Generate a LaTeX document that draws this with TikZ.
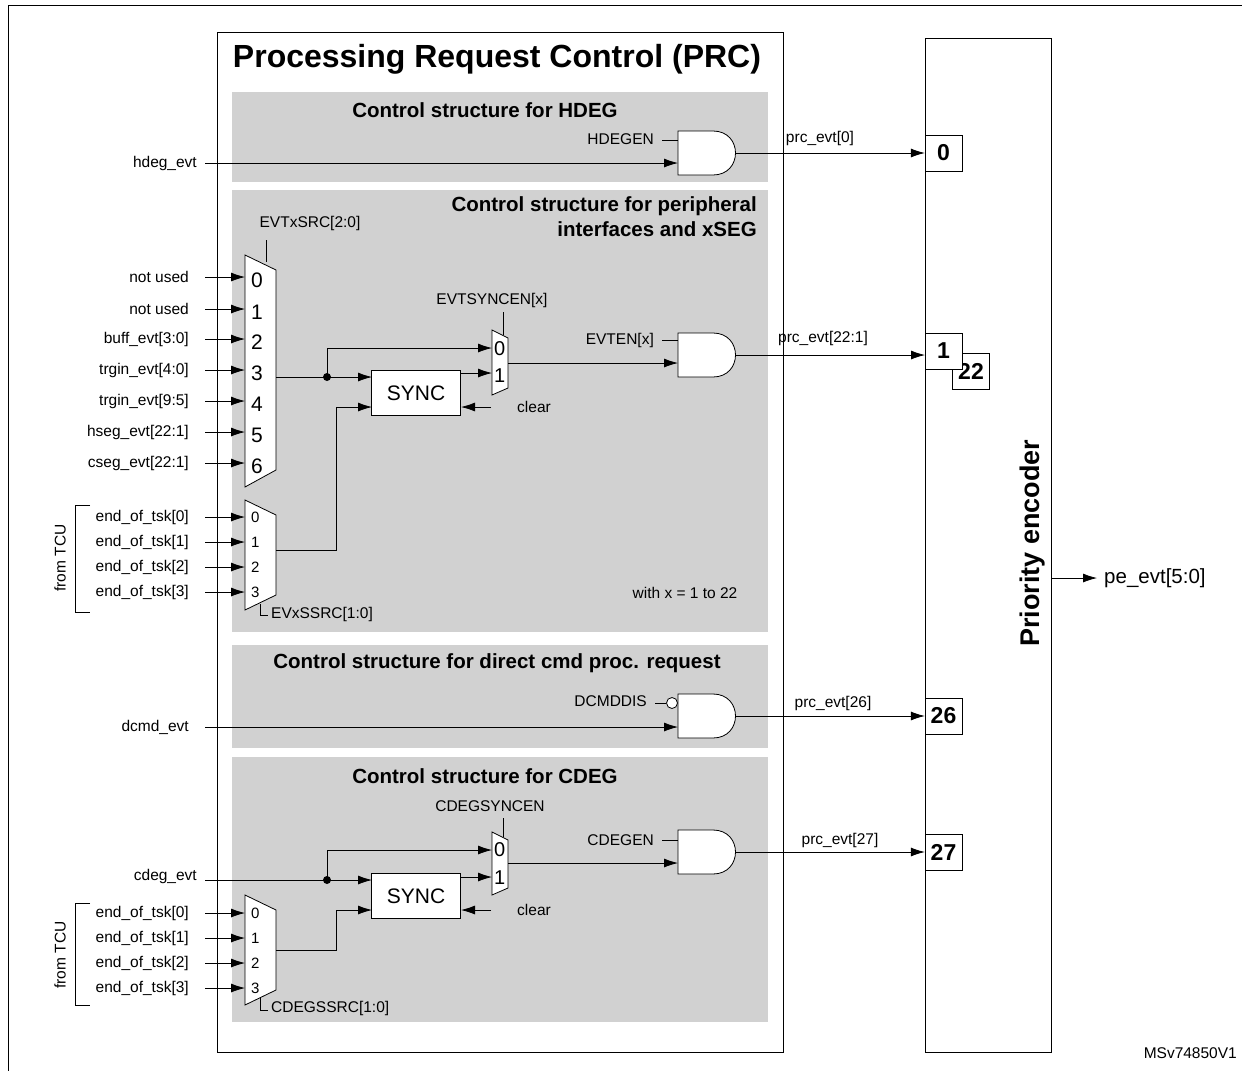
\documentclass[tikz,border=0pt]{standalone}
\usepackage{fontspec}
\setmainfont{Liberation Sans}
\usetikzlibrary{arrows.meta}
\begin{document}
\begin{tikzpicture}[x=1pt,y=-1pt,
  sig/.style={font=\fontsize{15.5}{18}\selectfont,inner sep=1pt},
  ttl/.style={font=\bfseries\fontsize{20.5}{25}\selectfont,inner sep=0pt},
  num/.style={font=\fontsize{21}{23}\selectfont,inner sep=0pt},
  snum/.style={font=\fontsize{15}{17}\selectfont,inner sep=0pt},
  mnum/.style={font=\fontsize{20}{22}\selectfont,inner sep=0pt},
  pin/.style={draw,fill=white,minimum width=37pt,minimum height=36pt,inner sep=0pt,font=\bfseries\fontsize{23}{25}\selectfont},
  ar/.style={-{Latex[length=14pt,width=9pt]},line width=0.8pt},
  ln/.style={line width=0.8pt},
  panel/.style={fill=black!18,draw=none},
  gate/.style={draw,fill=white,line width=0.8pt},
  sync/.style={draw,fill=white,line width=0.8pt,minimum width=89pt,minimum height=45pt,font=\fontsize{21}{23}\selectfont}]
\useasboundingbox (0,0) rectangle (1242,1071);
\draw[line width=1pt] (8,5) -- (8,1071) (8,5) -- (1242,5);
% PRC box
\draw[line width=0.8pt] (217,32) rectangle (783,1052);
\node[font=\bfseries\fontsize{32}{36}\selectfont,inner sep=0pt] (title) at (497,59) {Processing Request Control (PRC)};
\fill[panel] (232,92) rectangle (768,182);
\fill[panel] (232,190) rectangle (768,632);
\fill[panel] (232,645) rectangle (768,748);
\fill[panel] (232,757) rectangle (768,1022);
% Priority encoder
\draw[line width=0.8pt] (925,38) rectangle (1051,1052);
\node[rotate=90,font=\bfseries\fontsize{27}{30}\selectfont,inner sep=0pt] (pe) at (1033,543) {Priority encoder};
\node[pin] (p22) at (971,371) {\raisebox{-5pt}{22}};
\node[pin] (p0) at (943.5,153) {0};
\node[pin] (p1) at (943.5,351) {1};
\node[pin] (p26) at (943.5,716) {26};
\node[pin] (p27) at (943.5,852) {27};
\coordinate (peo) at (1051,578);
\coordinate (peend) at (1097,578);
\draw[ar] (peo) -- (peend);
\node[font=\fontsize{20.5}{23}\selectfont,anchor=west,inner sep=0pt] (pel) at (1104,578) {pe\_evt[5:0]};
\node[sig,anchor=east] (ms) at (1238,1053) {MSv74850V1};

% ---- HDEG
\node[ttl] (t1) at (485,110) {Control structure for HDEG};
\draw[gate] (678,131) -- (713,131) .. controls (743,131) and (743,175) .. (713,175) -- (678,175) -- cycle;
\coordinate (g1o) at (736,153);
\node[sig,anchor=east] (hdegen) at (655,139) {HDEGEN};
\draw[ln] (662,140) -- (678,140);
\node[sig,anchor=east] (hdeg) at (198,163) {hdeg\_evt};
\coordinate (g1a) at (205,163);
\coordinate (g1i) at (678,163);
\draw[ar] (g1a) -- (g1i);
\draw[ar] (g1o) -- (p0.west);
\node[sig] (l0) at (820,138) {prc\_evt[0]};

% ---- Peripheral
\node[ttl,align=right,anchor=north east] (t2) at (757,196) {Control structure for peripheral\\interfaces and xSEG};
\node[sig] (evtx) at (310,223) {EVTxSRC[2:0]};
\draw[ln] (266,240) -- (266,262);
\draw[gate] (245,255) -- (276,270) -- (276,470) -- (245,487) -- cycle;
\foreach \n/\y/\l in {0/280/not used,1/312/not used,2/342/buff\_evt[3:0],3/373/trgin\_evt[4:0],4/404/trgin\_evt[9:5],5/435/hseg\_evt[22:1],6/466/cseg\_evt[22:1]}{
  \node[num,anchor=west] (m\n) at (251,\y) {\n};
  \node[sig,anchor=east] (in\n) at (190,\y-3) {\l};
  \coordinate (ia\n) at (205,\y-3);
  \coordinate (ib\n) at (245,\y-3);
  \draw[ar] (ia\n) -- (ib\n);
}
\node[sync] (sync1) at (416,393) {SYNC};
\draw[gate] (492,330) -- (508,338) -- (508,388) -- (492,395) -- cycle;
\node[mnum,anchor=west] (s0) at (494,349) {0};
\node[mnum,anchor=west] (s1) at (494,376) {1};
\node[sig] (esy) at (492,300) {EVTSYNCEN[x]};
\draw[ln] (503,312) -- (503,335);
\coordinate (dot1) at (327,377);
\draw[ln] (276,377) -- (dot1);
\fill (dot1) circle (4);
\draw[ar] (dot1) -- (372,377);
\draw[ar] (dot1) -- (327,348) -- (492,348);
\draw[ar] (461,373) -- (492,373);
\coordinate (clr1) at (491,407);
\draw[ar] (clr1) -- (461,407);
\node[sig,anchor=west] (clear1) at (516,407) {clear};
\draw[gate] (678,333) -- (713,333) .. controls (743,333) and (743,377) .. (713,377) -- (678,377) -- cycle;
\draw[ar] (508,363) -- (678,363);
\node[sig,anchor=east] (eten) at (655,340) {EVTEN[x]};
\draw[ln] (662,340) -- (678,340);
\draw[ar] (736,355) -- (925,355);
\node[sig] (l1) at (823,338) {prc\_evt[22:1]};
% mux2
\draw[gate] (245,500) -- (276,515) -- (276,595) -- (245,610) -- cycle;
\foreach \n/\y in {0/517,1/542,2/567,3/592}{
  \node[snum,anchor=west] (e\n) at (251,\y) {\n};
  \node[sig,anchor=east] (et\n) at (190,\y) {end\_of\_tsk[\n]};
  \coordinate (ea\n) at (205,\y);
  \coordinate (eb\n) at (245,\y);
  \draw[ar] (ea\n) -- (eb\n);
}
\draw[ar] (276,550) -- (336,550) -- (336,407) -- (372,407);
\draw[ln] (260,604) -- (260,615) -- (268,615);
\node[sig,anchor=west] (evs) at (270,614) {EVxSSRC[1:0]};
\draw[ln] (90,505) -- (75,505) -- (75,612) -- (90,612);
\node[sig,rotate=90] (tcu1) at (60,558) {from TCU};
\node[sig] (wx) at (685,593) {with x = 1 to 22};

% ---- DCMD
\node[ttl] (t3) at (497,663) {Control structure for direct cmd proc. request};
\draw[gate] (678,694) -- (713,694) .. controls (743,694) and (743,738) .. (713,738) -- (678,738) -- cycle;
\node[sig,anchor=east] (dcd) at (648,701) {DCMDDIS};
\draw[ln] (655,703) -- (666,703);
\draw[ln,fill=white] (672,703) circle (5.5);
\node[sig,anchor=east] (dcmd) at (190,727) {dcmd\_evt};
\draw[ar] (205,727) -- (678,727);
\draw[ar] (736,716) -- (p26.west);
\node[sig] (l26) at (833,703) {prc\_evt[26]};

% ---- CDEG
\node[ttl] (t4) at (485,776) {Control structure for CDEG};
\node[sig] (csy) at (490,806) {CDEGSYNCEN};
\draw[ln] (503,818) -- (503,837);
\draw[gate] (492,832) -- (508,840) -- (508,888) -- (492,895) -- cycle;
\node[mnum,anchor=west] (c0) at (494,850) {0};
\node[mnum,anchor=west] (c1) at (494,878) {1};
\node[sync] (sync2) at (416,896) {SYNC};
\node[sig,anchor=east] (cdeg) at (198,876) {cdeg\_evt};
\coordinate (dot2) at (327,880);
\draw[ln] (205,880) -- (dot2);
\fill (dot2) circle (4);
\draw[ar] (dot2) -- (372,880);
\draw[ar] (dot2) -- (327,850) -- (492,850);
\draw[ar] (461,877) -- (492,877);
\draw[ar] (491,910) -- (461,910);
\node[sig,anchor=west] (clear2) at (516,910) {clear};
\draw[gate] (678,830) -- (713,830) .. controls (743,830) and (743,874) .. (713,874) -- (678,874) -- cycle;
\draw[ar] (508,863) -- (678,863);
\node[sig,anchor=east] (cen) at (655,840) {CDEGEN};
\draw[ln] (662,840) -- (678,840);
\draw[ar] (736,852) -- (p27.west);
\node[sig] (l27) at (840,840) {prc\_evt[27]};
\draw[gate] (245,895) -- (276,910) -- (276,990) -- (245,1005) -- cycle;
\foreach \n/\y in {0/913,1/938,2/963,3/988}{
  \node[snum,anchor=west] (f\n) at (251,\y) {\n};
  \node[sig,anchor=east] (ft\n) at (190,\y) {end\_of\_tsk[\n]};
  \coordinate (fa\n) at (205,\y);
  \coordinate (fb\n) at (245,\y);
  \draw[ar] (fa\n) -- (fb\n);
}
\draw[ar] (276,950) -- (336,950) -- (336,910) -- (372,910);
\draw[ln] (260,998) -- (260,1010) -- (268,1010);
\node[sig,anchor=west] (css) at (270,1008) {CDEGSSRC[1:0]};
\draw[ln] (90,903) -- (75,903) -- (75,1005) -- (90,1005);
\node[sig,rotate=90] (tcu2) at (60,955) {from TCU};
\end{tikzpicture}
\end{document}
